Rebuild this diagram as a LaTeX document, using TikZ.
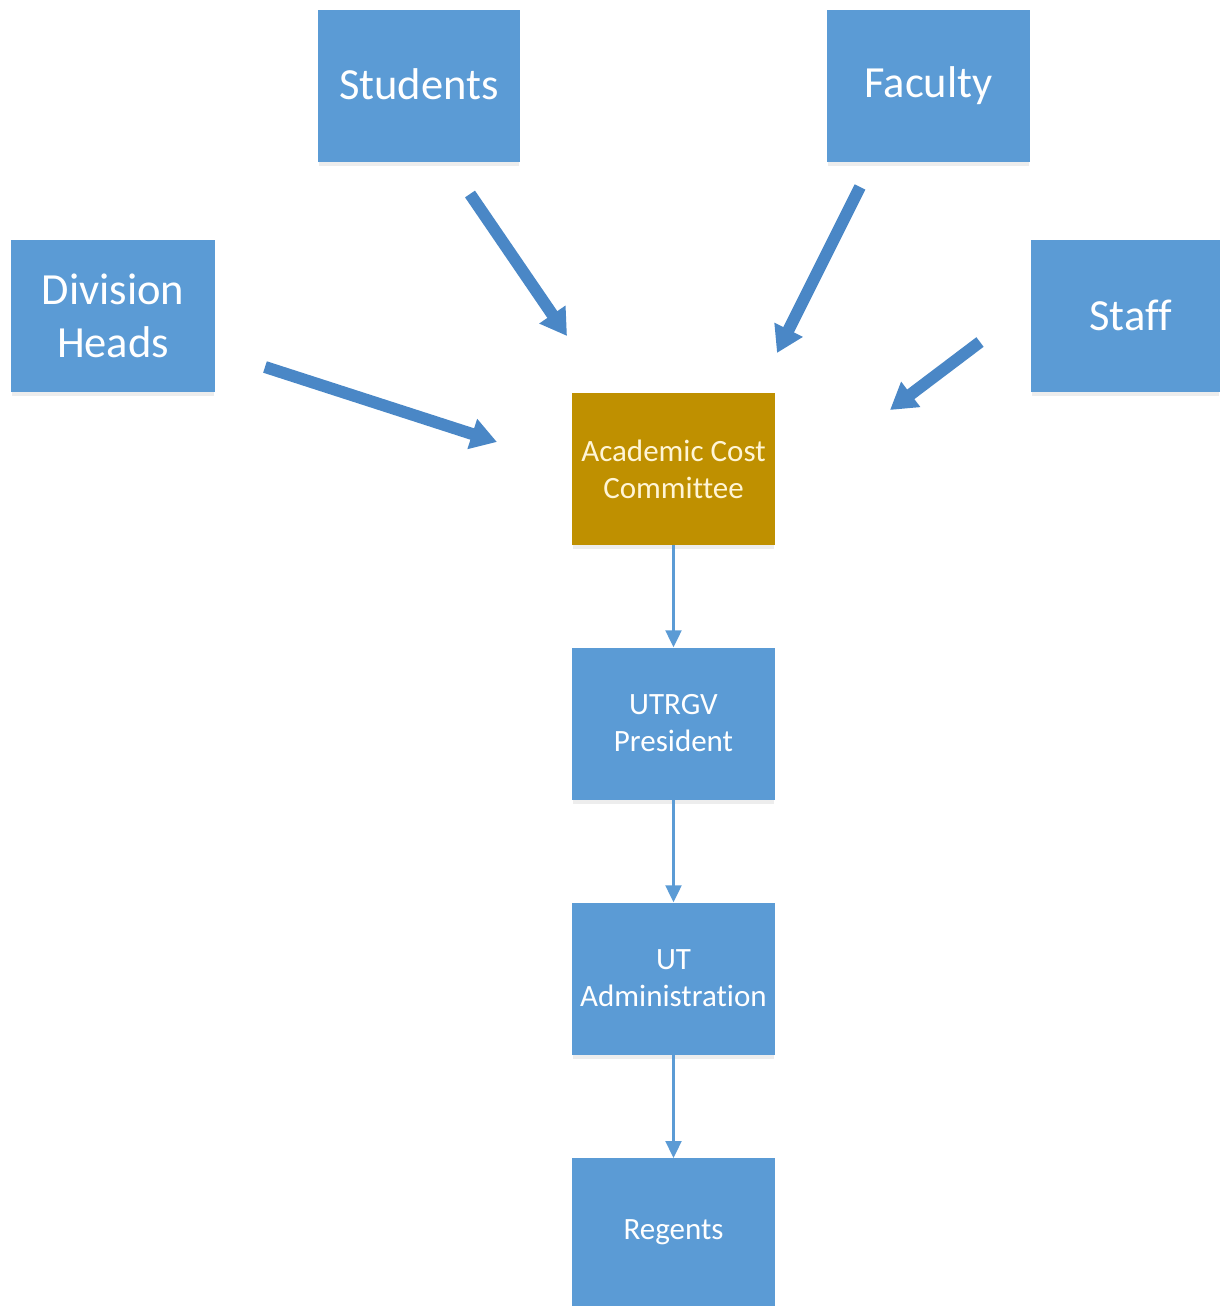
\documentclass[tikz,border=0pt]{standalone}
\usepackage{fontspec}
\setmainfont[Ligatures=NoCommon]{Carlito}
\usetikzlibrary{arrows.meta}
\definecolor{boxblue}{HTML}{5B9BD5}
\definecolor{gold}{HTML}{BF9000}
\definecolor{arrblue}{HTML}{4A87C6}
\definecolor{cream}{HTML}{FFF5D6}
\tikzset{
  bigbox/.style={fill=boxblue, minimum width=204pt, minimum height=152pt, inner sep=0pt, text=white, align=center, font=\fontsize{44.5}{53}\selectfont},
  smallbox/.style={fill=boxblue, minimum width=204pt, minimum height=152pt, inner sep=0pt, text=white, align=center, font=\fontsize{31}{37}\selectfont},
  goldbox/.style={smallbox, fill=gold, text=cream},
  fatarrow/.style={draw=arrblue, line width=12pt, -{Triangle[width=30pt,length=26pt]}},
  thinarrow/.style={draw=boxblue, line width=2.2pt, -{Triangle[width=16pt,length=17pt]}}
}
\begin{document}
\begin{tikzpicture}[x=1pt,y=-1pt]
\useasboundingbox (0,0) rectangle (1220,1306);
% faint shadows
\foreach \x/\y/\w in {318/10/202, 827/10/203, 11/240/204, 1031/240/189, 572/393/203, 572/648/203, 572/903/203}{
  \fill[black!7] (\x+1,\y+152) rectangle (\x+\w-1,\y+156);
}
\node[bigbox, minimum width=202pt] (stu) at (419,86) {\raisebox{3pt}{Students}};
\node[bigbox, minimum width=203pt] (fac) at (928.5,86) {\raisebox{3pt}{Faculty}};
\node[bigbox] (div) at (113,315.5) {Division\\Heads};
\node[bigbox, minimum width=189pt, anchor=west] (staff) at (1031,315.5) {\hspace*{10pt}Staff};
\node[goldbox, minimum width=203pt] (acc) at (673.5,469) {Academic Cost\\Committee};
\node[smallbox, minimum width=203pt] (pres) at (673.5,723.5) {UTRGV\\President};
\node[smallbox, minimum width=203pt] (uta) at (673.5,978.5) {UT\\Administration};
\node[smallbox, minimum width=203pt, minimum height=148pt, anchor=north] (reg) at (673.5,1158) {Regents};

\coordinate (s1) at (470,194);
\coordinate (s2) at (567,336);
\coordinate (f1) at (860,187);
\coordinate (f2) at (777,353);
\coordinate (d1) at (265,367);
\coordinate (d2) at (497,442);
\coordinate (t1) at (980,342);
\coordinate (t2) at (890,410);
\draw[fatarrow] (s1) -- (s2);
\draw[fatarrow] (f1) -- (f2);
\draw[fatarrow] (d1) -- (d2);
\draw[fatarrow] (t1) -- (t2);

\draw[thinarrow] (acc.south) -- (pres.north);
\draw[thinarrow] (pres.south) -- (uta.north);
\draw[thinarrow] (uta.south) -- (reg.north);
\end{tikzpicture}
\end{document}
